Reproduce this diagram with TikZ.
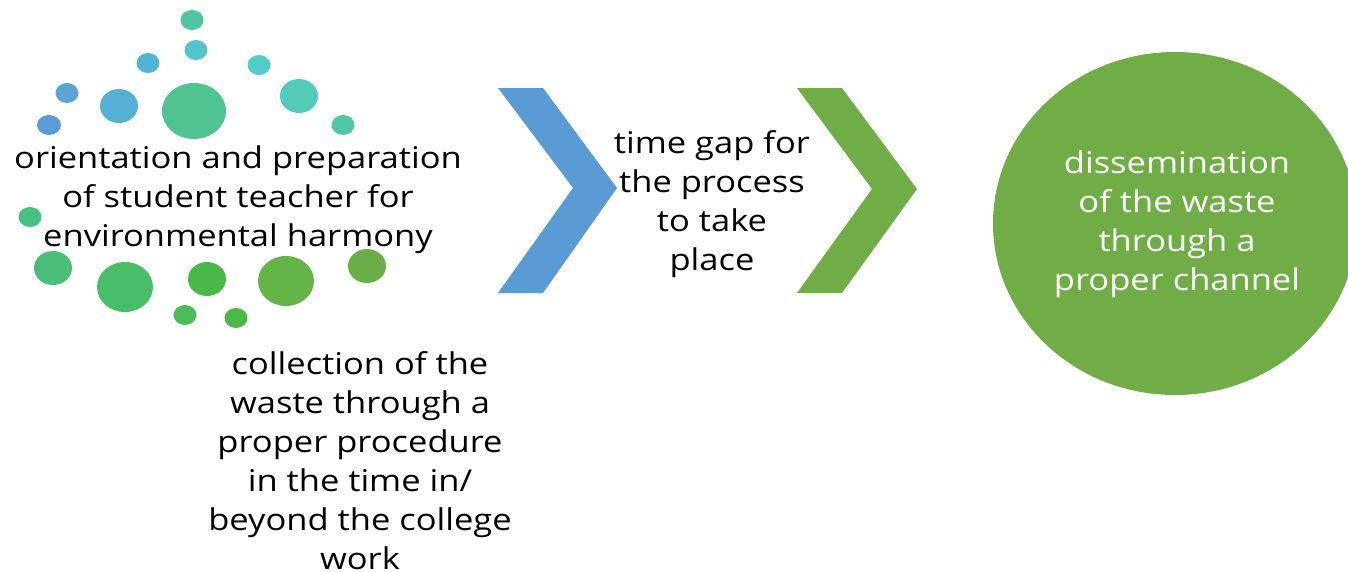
\documentclass[tikz,border=0pt]{standalone}
\usepackage{fontspec}
\setmainfont{Open Sans}[FakeStretch=1.15]
\begin{document}
\begin{tikzpicture}[x=1pt,y=-1pt,
  txt/.style={align=center,inner sep=0pt,font=\fontsize{30}{39}\selectfont,text=black},
  wtxt/.style={txt,text=white}]
\definecolor{cblue}{HTML}{5B9BD5}
\definecolor{cgreen}{HTML}{70AD47}
\definecolor{d1}{HTML}{4FC4A0}
\definecolor{d2}{HTML}{52C4CC}
\definecolor{d3}{HTML}{52B4D0}
\definecolor{d4}{HTML}{52CCC8}
\definecolor{d5}{HTML}{5AA5D5}
\definecolor{d6}{HTML}{56B0D6}
\definecolor{d7}{HTML}{50C490}
\definecolor{d8}{HTML}{52CCB8}
\definecolor{d9}{HTML}{5A9BD8}
\definecolor{d10}{HTML}{50C8A8}
\definecolor{d11}{HTML}{48C080}
\definecolor{d12}{HTML}{48BE78}
\definecolor{d13}{HTML}{48BE68}
\definecolor{d14}{HTML}{48B848}
\definecolor{d15}{HTML}{64B448}
\definecolor{d16}{HTML}{6AAE48}
\definecolor{d17}{HTML}{4CBC58}
\definecolor{d18}{HTML}{4CB848}
\useasboundingbox (0,0) rectangle (1348,571);
\begin{scope}
\clip (0,0) rectangle (1348,571);
% dots
\fill[d1] (192,20) ellipse [x radius=11.5,y radius=10];
\fill[d2] (196,50) ellipse [x radius=11.5,y radius=10];
\fill[d3] (148,63) ellipse [x radius=11.5,y radius=10];
\fill[d4] (259,65) ellipse [x radius=11.5,y radius=10];
\fill[d5] (67,93) ellipse [x radius=11.5,y radius=10];
\fill[d6] (119,106) ellipse [x radius=19,y radius=17];
\fill[d7] (194,111) ellipse [x radius=32,y radius=28];
\fill[d8] (299,96) ellipse [x radius=19,y radius=17];
\fill[d9] (49,125) ellipse [x radius=12,y radius=10];
\fill[d10] (343,125) ellipse [x radius=11.5,y radius=10];
\fill[d11] (30,217) ellipse [x radius=11.5,y radius=10];
\fill[d12] (53,268) ellipse [x radius=19,y radius=17];
\fill[d13] (125,287) ellipse [x radius=28,y radius=25];
\fill[d14] (207,279) ellipse [x radius=19,y radius=17];
\fill[d15] (286,281) ellipse [x radius=28,y radius=25];
\fill[d16] (367,266) ellipse [x radius=19,y radius=17];
\fill[d17] (185,315) ellipse [x radius=11.5,y radius=10];
\fill[d18] (236,318) ellipse [x radius=11.5,y radius=10];
% chevrons
\fill[cblue] (498,88) -- (543,88) -- (617,188) -- (543,293) -- (498,293) -- (573,188) -- cycle;
\fill[cgreen] (797,88) -- (842,88) -- (917,189) -- (842,293) -- (797,293) -- (872,189) -- cycle;
% big circle
\fill[cgreen] (1175,223.5) ellipse [x radius=182,y radius=171.5];
\end{scope}
\node[txt] (orient) at (238,200) {orientation and preparation\\of student teacher for\\environmental harmony};
\node[txt] (gap) at (712,204) {time gap for\\the process\\to take\\place};
\node[txt] (collect) at (360,461) {collection of the\\waste through a\\proper procedure\\in the time in/\\beyond the college\\work};
\node[wtxt] (dissem) at (1177,224) {dissemination\\of the waste\\through a\\proper channel};
\end{tikzpicture}
\end{document}
